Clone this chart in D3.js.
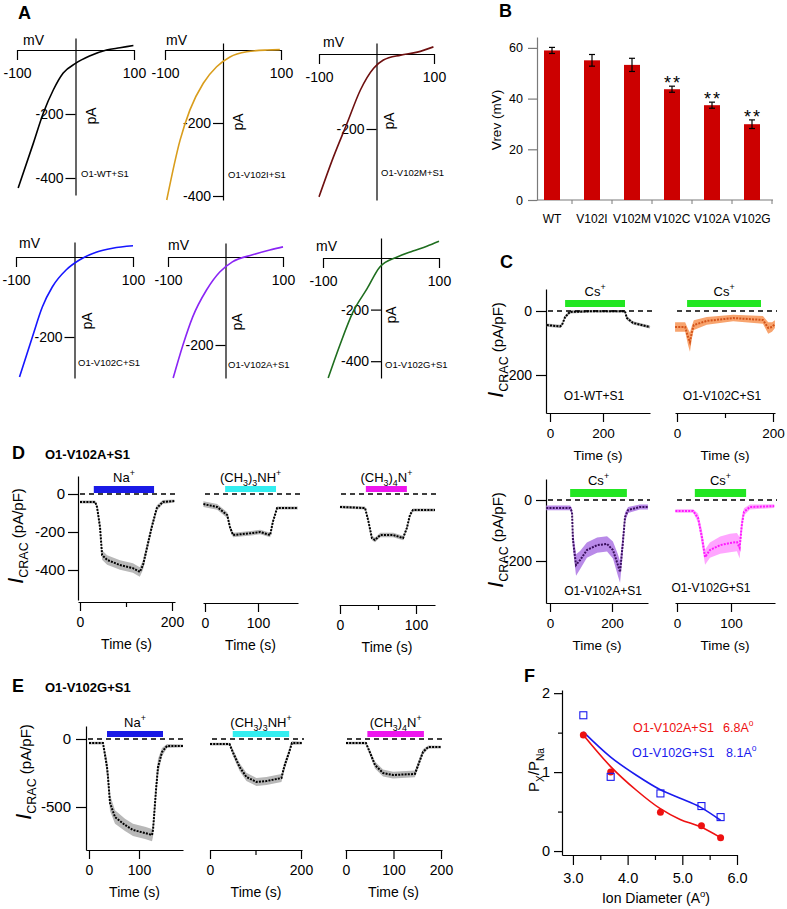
<!DOCTYPE html>
<html><head><meta charset="utf-8">
<script src="https://cdn.jsdelivr.net/npm/d3@7"></script>
<style>
body{margin:0;background:#fff}
svg{font-family:Arial,"Liberation Sans",Helvetica,sans-serif}
</style></head><body>
<svg id="fig" width="787" height="909"></svg>
<script>
// ================= DATA =================
// Panel A: I-V curves [mV, pA]
const ivWT    = [[-98,-431],[-72,-291],[-55,-197],[-38,-125],[-21,-72],[0,-42],[24,-19],[53,0],[76,7],[99,14]];
const ivV102I = [[-97,-411],[-74,-247],[-57,-164],[-34,-91],[-11,-46],[12,-19],[41,-5],[76,0],[98,1]];
const ivV102M = [[-100,-381],[-75,-275],[-51,-184],[-28,-96],[-5,-38],[12,-16],[42,-3],[71,5],[99,19]];
const ivV102C = [[-94,-300],[-72,-200],[-55,-125],[-38,-75],[-14,-32],[9,-7],[37,12],[65,22],[100,28]];
const ivV102A = [[-91,-275],[-74,-200],[-57,-136],[-33,-75],[-10,-34],[12,-11],[47,5],[77,16],[100,23]];
const ivV102G = [[-91,-465],[-71,-338],[-48,-208],[-24,-119],[-2,-35],[28,4],[55,27],[79,46],[100,65]];
const ivNames = ["O1-WT+S1","O1-V102I+S1","O1-V102M+S1","O1-V102C+S1","O1-V102A+S1","O1-V102G+S1"];
const ivXTicks = [-100, 100];

// Panel B: reversal potentials
const barCategories = ["WT","V102I","V102M","V102C","V102A","V102G"];
const vrevMeans  = [59.0, 55.1, 53.3, 43.7, 37.4, 29.9];
const vrevErrors = [1.2, 2.3, 2.6, 1.2, 1.2, 1.7];
const vrevSignif = [false, false, false, true, true, true];
const vrevTicks  = [0, 20, 40, 60];

// Time courses [time s, I pA/pF, sem]
const tcWT    = [[-12,-44,5],[38,-48,5],[45,-44,5],[57,-19,6],[75,-3,5],[151,-1,4],[283,-1,4],[290,-22,6],[313,-37,5],[377,-50,5]];
const tcV102C = [[-4,-50,15],[17,-50,15],[23,-81,25],[27,-97,30],[31,-66,20],[35,-44,15],[62,-31,12],[117,-22,10],[179,-28,12],[190,-53,18],[198,-50,15],[204,-41,12]];
const tcV102A = [[-12,-26,8],[65,-26,8],[71,-39,12],[74,-131,30],[84,-213,35],[97,-197,30],[119,-164,25],[152,-148,25],[184,-144,25],[203,-164,28],[219,-213,35],[226,-236,35],[235,-141,30],[242,-56,15],[252,-33,10],[290,-23,8],[316,-23,8]];
const tcV102G = [[-3,-36,6],[30,-36,6],[39,-59,15],[46,-121,25],[52,-187,25],[61,-164,25],[80,-148,28],[98,-141,30],[111,-138,30],[116,-157,35],[120,-82,25],[124,-39,12],[135,-23,8],[180,-20,6]];
const tcD_Na    = [[0,-42,8],[33,-42,8],[37,-68,15],[43.5,-174,25],[48,-321,25],[59,-347,25],[87,-374,25],[115,-390,25],[130,-410,25],[137,-374,25],[146,-279,25],[156,-174,20],[167,-74,15],[180,-42,10],[205,-37,8]];
const tcD_TriMA = [[-3,-53,15],[23,-68,15],[42,-111,15],[47,-174,15],[53,-216,12],[91,-205,12],[104,-200,12],[123,-216,12],[128,-147,12],[136,-74,8],[147,-74,8],[175,-74,8]];
const tcD_TetMA = [[0,-68,8],[33,-74,8],[37,-137,12],[42,-232,12],[46,-242,12],[53,-216,12],[70,-216,12],[83,-232,12],[88,-179,12],[92,-111,10],[96,-84,8],[125,-84,8]];
const tcE_Na    = [[0,-30,10],[28,-30,10],[36,-206,60],[38,-279,60],[42,-470,60],[52,-574,50],[72,-632,45],[88,-669,45],[112,-691,45],[126,-706,45],[128,-669,50],[130,-574,60],[134,-375,60],[138,-206,60],[146,-96,30],[156,-51,15],[188,-51,10]];
const tcE_TriMA = [[0,-37,10],[43,-37,10],[50,-96,25],[65,-206,30],[80,-279,30],[102,-316,30],[124,-309,30],[157,-287,30],[163,-206,30],[174,-96,25],[180,-30,15],[202,-30,10]];
const tcE_TetMA = [[0,-30,10],[42,-30,10],[50,-96,20],[61,-191,25],[78,-250,25],[99,-265,25],[145,-257,25],[152,-191,25],[162,-96,20],[173,-59,12],[200,-59,10]];
// perfusion intervals [start, end] s
const solWT = [57,283], solV102C = [21,175], solV102A = [65,248], solV102G = [33,128];
const solD = [[30,161],[38,134],[34,88]];
const solE = [[36,148],[50,174],[45,164]];

// Panel F: permeability ratios
const ionDiameters = [3.19, 3.69, 4.60, 5.35, 5.70];
const pxV102A = [1.47, 1.00, 0.49, 0.32, 0.17];
const pxV102G = [1.72, 0.94, 0.73, 0.57, 0.43];
const fitDiameters = [3.19, 3.69, 4.16, 4.59, 4.96, 5.32, 5.70];
const fitV102A = [1.47, 1.07, 0.77, 0.54, 0.40, 0.31, 0.17];
const fitV102G = [1.51, 1.19, 0.96, 0.78, 0.67, 0.56, 0.39];
const fXTicks = [3, 4, 5, 6];
const fYTicks = [0, 1, 2];

// ================= DRAWING =================
const svg = d3.select("#fig");
const FF = "Arial, 'Liberation Sans', Helvetica, sans-serif";
const fmtInt = d => String(d);

function axisStyle(sel, fs, col) {
  sel.attr("font-size", fs).attr("font-family", FF);
  sel.selectAll("path, line").attr("stroke", col || "#000").attr("stroke-width", 1.2);
  sel.selectAll("text").attr("fill", "#000");
}
function rich(g, x, y, parts, fs, anchor, fill, weight) {
  const t = g.append("text").attr("x", x).attr("y", y).attr("font-size", fs)
    .attr("text-anchor", anchor || "start").attr("fill", fill || "#000");
  if (weight) t.attr("font-weight", weight);
  let cur = 0;
  parts.forEach(p => {
    const target = p.sup ? -fs * 0.45 : p.sub ? fs * 0.32 : 0;
    const ts = t.append("tspan").attr("dy", target - cur).text(p.t);
    if (p.sup || p.sub) ts.attr("font-size", fs * 0.68);
    if (p.fs) ts.attr("font-size", p.fs);
    if (p.it) ts.attr("font-style", "italic");
    cur = target;
  });
  return t;
}
function label(g, x, y, txt, fs, anchor, weight, fill) {
  const t = g.append("text").attr("x", x).attr("y", y).attr("font-size", fs)
    .attr("text-anchor", anchor || "start").attr("fill", fill || "#000").text(txt);
  if (weight) t.attr("font-weight", weight);
  return t;
}
function vlabel(g, xBase, yc, parts, fs) {
  const gg = g.append("g").attr("transform", `translate(${xBase},${yc}) rotate(-90)`);
  rich(gg, 0, 0, parts, fs, "middle");
}
const icracParts = [{t:"I", it:true, fs:22},{t:"CRAC", sub:true, fs:12.5},{t:" (pA/pF)", fs:15}];

// panel letters
[["A",18,19],["B",499,17],["C",500,268],["D",12,459],["E",12,692],["F",524,682]]
  .forEach(d => label(svg, d[1], d[2], d[0], 18, "start", "bold"));
label(svg, 45, 459, "O1-V102A+S1", 13, "start", "bold");
label(svg, 45, 692, "O1-V102G+S1", 13, "start", "bold");

// ---------- Panel A ----------
const ivSeries = [ivWT, ivV102I, ivV102M, ivV102C, ivV102A, ivV102G];
const ivColors = ["#000000","#d99d1c","#6e1010","#1616ff","#8a25f5","#1f6e1f"];
const ivLay = [
  {xl:17, xr:134, y0:50, k:0.32, top:38, bot:195, ticks:[-200,-400], pA:[96,116], nm:[81,177], mv:[23,45]},
  {xl:165, xr:281, y0:50, k:0.365, top:43, bot:200, ticks:[-200,-400], pA:[243,122], nm:[228,178], mv:[166,45]},
  {xl:319, xr:434, y0:54, k:0.375, top:43, bot:200, ticks:[-200], pA:[394,121], nm:[381,176], mv:[323,47]},
  {xl:16, xr:133, y0:257, k:0.40, top:242, bot:378, ticks:[-200], pA:[92,321], nm:[78,366], mv:[19,248]},
  {xl:168, xr:283, y0:257, k:0.44, top:243, bot:378, ticks:[-200], pA:[242,322], nm:[228,368], mv:[168,250]},
  {xl:323, xr:439, y0:258, k:0.258, top:238, bot:378, ticks:[-200,-400], pA:[396,315], nm:[385,368], mv:[316,251]}
];
ivSeries.forEach((data, i) => {
  const L = ivLay[i];
  const g = svg.append("g");
  const x = d3.scaleLinear().domain([-100, 100]).range([L.xl, L.xr]);
  const y = d3.scaleLinear().domain([-(L.bot - L.y0) / L.k, (L.y0 - L.top) / L.k]).range([L.bot, L.top]);
  const xa = g.append("g").attr("transform", `translate(0,${y(0)})`)
    .call(d3.axisBottom(x).tickValues(ivXTicks).tickSize(10).tickSizeOuter(0).tickPadding(8).tickFormat(fmtInt));
  axisStyle(xa, 14);
  const ya = g.append("g").attr("transform", `translate(${x(0)},0)`)
    .call(d3.axisLeft(y).tickValues(L.ticks).tickSize(10).tickSizeOuter(0).tickPadding(2).tickFormat(fmtInt));
  axisStyle(ya, 14);
  g.append("path").datum(data).attr("fill", "none").attr("stroke", ivColors[i]).attr("stroke-width", 1.6)
    .attr("d", d3.line().x(d => x(d[0])).y(d => y(d[1])).curve(d3.curveMonotoneX));
  label(g, L.mv[0], L.mv[1], "mV", 14);
  vlabel(g, L.pA[0], L.pA[1], [{t:"pA"}], 14);
  label(g, L.nm[0], L.nm[1], ivNames[i], 9.5);
});

// ---------- Panel B ----------
{
  const g = svg.append("g");
  const yB = d3.scaleLinear().domain([0, 64.3]).range([200, 37]);
  const xB = d3.scaleBand().domain(barCategories).range([532, 772]).paddingInner(0.6).paddingOuter(0.3);
  const ya = g.append("g").attr("transform", "translate(537,0)")
    .call(d3.axisLeft(yB).tickValues(vrevTicks).tickSize(9).tickSizeOuter(0).tickPadding(5).tickFormat(fmtInt));
  axisStyle(ya, 12.5, "#7a7a7a");
  g.append("line").attr("x1", 537).attr("x2", 773).attr("y1", yB(0)).attr("y2", yB(0)).attr("stroke", "#7a7a7a").attr("stroke-width", 1.2);
  barCategories.forEach((c, i) => {
    const bx = xB(c) + xB.bandwidth() + (xB.step() - xB.bandwidth()) / 2;
    g.append("line").attr("x1", bx).attr("x2", bx).attr("y1", yB(0)).attr("y2", yB(0) + 4).attr("stroke", "#7a7a7a");
    label(g, xB(c) + xB.bandwidth() / 2, 223, c, 12, "middle");
  });
  g.selectAll("rect.bar").data(vrevMeans).enter().append("rect")
    .attr("x", (d, i) => xB(barCategories[i])).attr("width", xB.bandwidth())
    .attr("y", d => yB(d)).attr("height", d => yB(0) - yB(d)).attr("fill", "#cc0000");
  vrevMeans.forEach((m, i) => {
    const cx = xB(barCategories[i]) + xB.bandwidth() / 2;
    const e = vrevErrors[i];
    g.append("line").attr("x1", cx).attr("x2", cx).attr("y1", yB(m - e)).attr("y2", yB(m + e)).attr("stroke", "#000").attr("stroke-width", 1.2);
    [m - e, m + e].forEach(v => g.append("line").attr("x1", cx - 3).attr("x2", cx + 3).attr("y1", yB(v)).attr("y2", yB(v)).attr("stroke", "#000").attr("stroke-width", 1.2));
    if (vrevSignif[i]) label(g, cx + 1, yB(m + e) + 3, "**", 18, "middle").attr("letter-spacing", 2);
  });
  vlabel(g, 501, 120, [{t:"Vrev (mV)"}], 13.5);
}

// ---------- Time-course helper ----------
function drawTC(o) {
  const g = svg.append("g");
  const x = d3.scaleLinear().domain([(o.xr[0] - o.x0) / o.kx, (o.xr[1] - o.x0) / o.kx]).range(o.xr);
  const y = o.y;
  g.append("path").datum(o.data).attr("fill", o.band)
    .attr("d", d3.area().x(d => x(d[0])).y0(d => y(d[1] - d[2])).y1(d => y(d[1] + d[2])));
  g.append("path").datum(o.data).attr("fill", "none").attr("stroke", o.line).attr("stroke-width", 2)
    .attr("stroke-dasharray", "2,1.2")
    .attr("d", d3.line().x(d => x(d[0])).y(d => y(d[1])));
  g.append("line").attr("x1", o.xr[0] + 2).attr("x2", o.xr[1] + 2).attr("y1", y(0)).attr("y2", y(0))
    .attr("stroke", "#000").attr("stroke-width", 1.3).attr("stroke-dasharray", "5,4");
  const bt = y(0) - o.gap - o.bh;
  g.append("rect").attr("x", x(o.sol[0])).attr("width", x(o.sol[1]) - x(o.sol[0]))
    .attr("y", bt).attr("height", o.bh).attr("fill", o.solColor);
  rich(g, (x(o.sol[0]) + x(o.sol[1])) / 2, bt - 4, o.solText, 13, "middle");
  const xa = g.append("g").attr("transform", `translate(0,${o.axY})`)
    .call(d3.axisBottom(x).tickValues(o.ticks).tickSize(9).tickSizeOuter(0).tickPadding(6).tickFormat(fmtInt));
  axisStyle(xa, o.fs);
  if (o.minor && o.minor.length) {
    const mi = g.append("g").attr("transform", `translate(0,${o.axY})`)
      .call(d3.axisBottom(x).tickValues(o.minor).tickSize(5).tickFormat(""));
    mi.select(".domain").remove();
    axisStyle(mi, o.fs);
  }
  label(g, (o.xr[0] + o.xr[1]) / 2, o.axY + 47, "Time (s)", o.fs, "middle");
  if (o.name) label(g, o.name[1], o.name[2], o.name[0], 12, "middle");
  return g;
}
const csText = [{t:"Cs"},{t:"+", sup:true}];
const naText = [{t:"Na"},{t:"+", sup:true}];
const triText = [{t:"(CH"},{t:"3", sub:true},{t:")"},{t:"3", sub:true},{t:"NH"},{t:"+", sup:true}];
const tetText = [{t:"(CH"},{t:"3", sub:true},{t:")"},{t:"4", sub:true},{t:"N"},{t:"+", sup:true}];

// ---------- Panel C ----------
const yCtop = d3.scaleLinear().domain([-(413 - 311) / 0.32, (311 - 289) / 0.32]).range([413, 289]);
const yCbot = d3.scaleLinear().domain([-(603 - 500) / 0.305, (500 - 479) / 0.305]).range([603, 479]);
[[yCtop, 350], [yCbot, 540]].forEach(([ys, yc]) => {
  const ya = svg.append("g").attr("transform", "translate(546,0)")
    .call(d3.axisLeft(ys).tickValues([0, -200]).tickSize(10).tickSizeOuter(0).tickPadding(4).tickFormat(fmtInt));
  axisStyle(ya, 14);
  vlabel(svg, 503, yc, icracParts, 15);
});
drawTC({y:yCtop, x0:550, kx:0.265, xr:[546,650], axY:413, ticks:[0,200], data:tcWT, band:"#b0b0b0", line:"#000",
  sol:solWT, solColor:"#22e622", solText:csText, gap:4, bh:7, fs:13.5, name:["O1-WT+S1",594,400]});
drawTC({y:yCtop, x0:677, kx:0.48, xr:[675,775], axY:413, ticks:[0,200], minor:[100], data:tcV102C, band:"#f8a46e", line:"#d4541a",
  sol:solV102C, solColor:"#22e622", solText:csText, gap:4, bh:7, fs:13.5, name:["O1-V102C+S1",722,400]});
drawTC({y:yCbot, x0:550, kx:0.31, xr:[546,648], axY:603, ticks:[0,200], data:tcV102A, band:"#b98ae8", line:"#3a0f5e",
  sol:solV102A, solColor:"#22e622", solText:csText, gap:3, bh:8, fs:13.5, name:["O1-V102A+S1",603,595]});
drawTC({y:yCbot, x0:677, kx:0.54, xr:[675,775], axY:603, ticks:[0,100], data:tcV102G, band:"#ffa6ff", line:"#ff1aff",
  sol:solV102G, solColor:"#22e622", solText:csText, gap:3, bh:8, fs:13.5, name:["O1-V102G+S1",711,592]});

// ---------- Panel D ----------
const yD = d3.scaleLinear().domain([-(600 - 494) / 0.19, (494 - 476) / 0.19]).range([600, 476]);
{
  const ya = svg.append("g").attr("transform", "translate(78,0)")
    .call(d3.axisLeft(yD).tickValues([0, -200, -400]).tickSize(10).tickSizeOuter(0).tickPadding(3).tickFormat(fmtInt));
  axisStyle(ya, 15);
  vlabel(svg, 23, 536, icracParts, 15);
}
drawTC({y:yD, x0:80, kx:0.46, xr:[78,175], axY:602, ticks:[0,200], minor:[100], data:tcD_Na, band:"#b8b8b8", line:"#000",
  sol:solD[0], solColor:"#1a1ae6", solText:naText, gap:1, bh:7, fs:14});
drawTC({y:yD, x0:205, kx:0.53, xr:[203,298], axY:603, ticks:[0,100], data:tcD_TriMA, band:"#b8b8b8", line:"#000",
  sol:solD[1], solColor:"#33eef0", solText:triText, gap:2, bh:6, fs:14});
drawTC({y:yD, x0:340, kx:0.76, xr:[339,435], axY:605, ticks:[0,100], minor:[50], data:tcD_TetMA, band:"#b8b8b8", line:"#000",
  sol:solD[2], solColor:"#ee16ee", solText:tetText, gap:2, bh:6, fs:14});

// ---------- Panel E ----------
const yE = d3.scaleLinear().domain([-(850 - 739) / 0.136, (739 - 726) / 0.136]).range([850, 726]);
{
  const ya = svg.append("g").attr("transform", "translate(86,0)")
    .call(d3.axisLeft(yE).tickValues([0, -500]).tickSize(10).tickSizeOuter(0).tickPadding(5).tickFormat(fmtInt));
  axisStyle(ya, 15);
  vlabel(svg, 31, 772, icracParts, 15);
}
drawTC({y:yE, x0:89, kx:0.5, xr:[86,183], axY:850, ticks:[0,100], data:tcE_Na, band:"#b8b8b8", line:"#000",
  sol:solE[0], solColor:"#1a1ae6", solText:naText, gap:2, bh:6, fs:14});
drawTC({y:yE, x0:210, kx:0.455, xr:[210,302], axY:850, ticks:[0,200], minor:[100], data:tcE_TriMA, band:"#b8b8b8", line:"#000",
  sol:solE[1], solColor:"#33eef0", solText:triText, gap:2, bh:6, fs:14});
drawTC({y:yE, x0:346, kx:0.475, xr:[345,442], axY:850, ticks:[0,100,200], data:tcE_TetMA, band:"#b8b8b8", line:"#000",
  sol:solE[2], solColor:"#ee16ee", solText:tetText, gap:2, bh:6, fs:14});

// ---------- Panel F ----------
{
  const g = svg.append("g");
  const xF = d3.scaleLinear().domain([2.8, 6.0]).range([562, 737]);
  const yF = d3.scaleLinear().domain([-0.05, 2.04]).range([855, 690]);
  const xa = g.append("g").attr("transform", "translate(0,855)")
    .call(d3.axisBottom(xF).tickValues(fXTicks).tickSize(10).tickSizeOuter(0).tickPadding(8).tickFormat(d3.format(".1f")));
  axisStyle(xa, 14.5);
  const xm = g.append("g").attr("transform", "translate(0,855)")
    .call(d3.axisBottom(xF).tickValues([3.5, 4.5, 5.5]).tickSize(5).tickFormat(""));
  xm.select(".domain").remove(); axisStyle(xm, 14);
  const ya = g.append("g").attr("transform", "translate(562,0)")
    .call(d3.axisLeft(yF).tickValues(fYTicks).tickSize(8).tickSizeOuter(0).tickPadding(4).tickFormat(fmtInt));
  axisStyle(ya, 14.5);
  const ym = g.append("g").attr("transform", "translate(562,0)")
    .call(d3.axisLeft(yF).tickValues([0.5, 1.5]).tickSize(4).tickFormat(""));
  ym.select(".domain").remove(); axisStyle(ym, 14);
  const ln = d3.line().x(d => xF(d[0])).y(d => yF(d[1])).curve(d3.curveMonotoneX);
  g.append("path").datum(fitDiameters.map((d, i) => [d, fitV102A[i]])).attr("fill", "none").attr("stroke", "#ee1111").attr("stroke-width", 1.6).attr("d", ln);
  g.append("path").datum(fitDiameters.map((d, i) => [d, fitV102G[i]])).attr("fill", "none").attr("stroke", "#1a1aee").attr("stroke-width", 1.6).attr("d", ln);
  ionDiameters.forEach((d, i) => {
    g.append("circle").attr("cx", xF(d)).attr("cy", yF(pxV102A[i])).attr("r", 3.5).attr("fill", "#ee1111");
    g.append("rect").attr("x", xF(d) - 3.5).attr("y", yF(pxV102G[i]) - 3.5).attr("width", 7).attr("height", 7)
      .attr("fill", "none").attr("stroke", "#1a1aee").attr("stroke-width", 1.1);
  });
  label(g, 633, 732, "O1-V102A+S1", 12.5, "start", null, "#ee1111");
  rich(g, 723, 732, [{t:"6.8A"},{t:"o", sup:true}], 12.5, "start", "#ee1111");
  label(g, 632, 757, "O1-V102G+S1", 12.5, "start", null, "#1a1aee");
  rich(g, 726, 757, [{t:"8.1A"},{t:"o", sup:true}], 12.5, "start", "#1a1aee");
  rich(g, 656, 903, [{t:"Ion Diameter (A"},{t:"o", sup:true},{t:")"}], 14, "middle");
  vlabel(g, 539, 770, [{t:"P"},{t:"X", sub:true},{t:"/P"},{t:"Na", sub:true}], 15);
}
</script>
</body></html>
